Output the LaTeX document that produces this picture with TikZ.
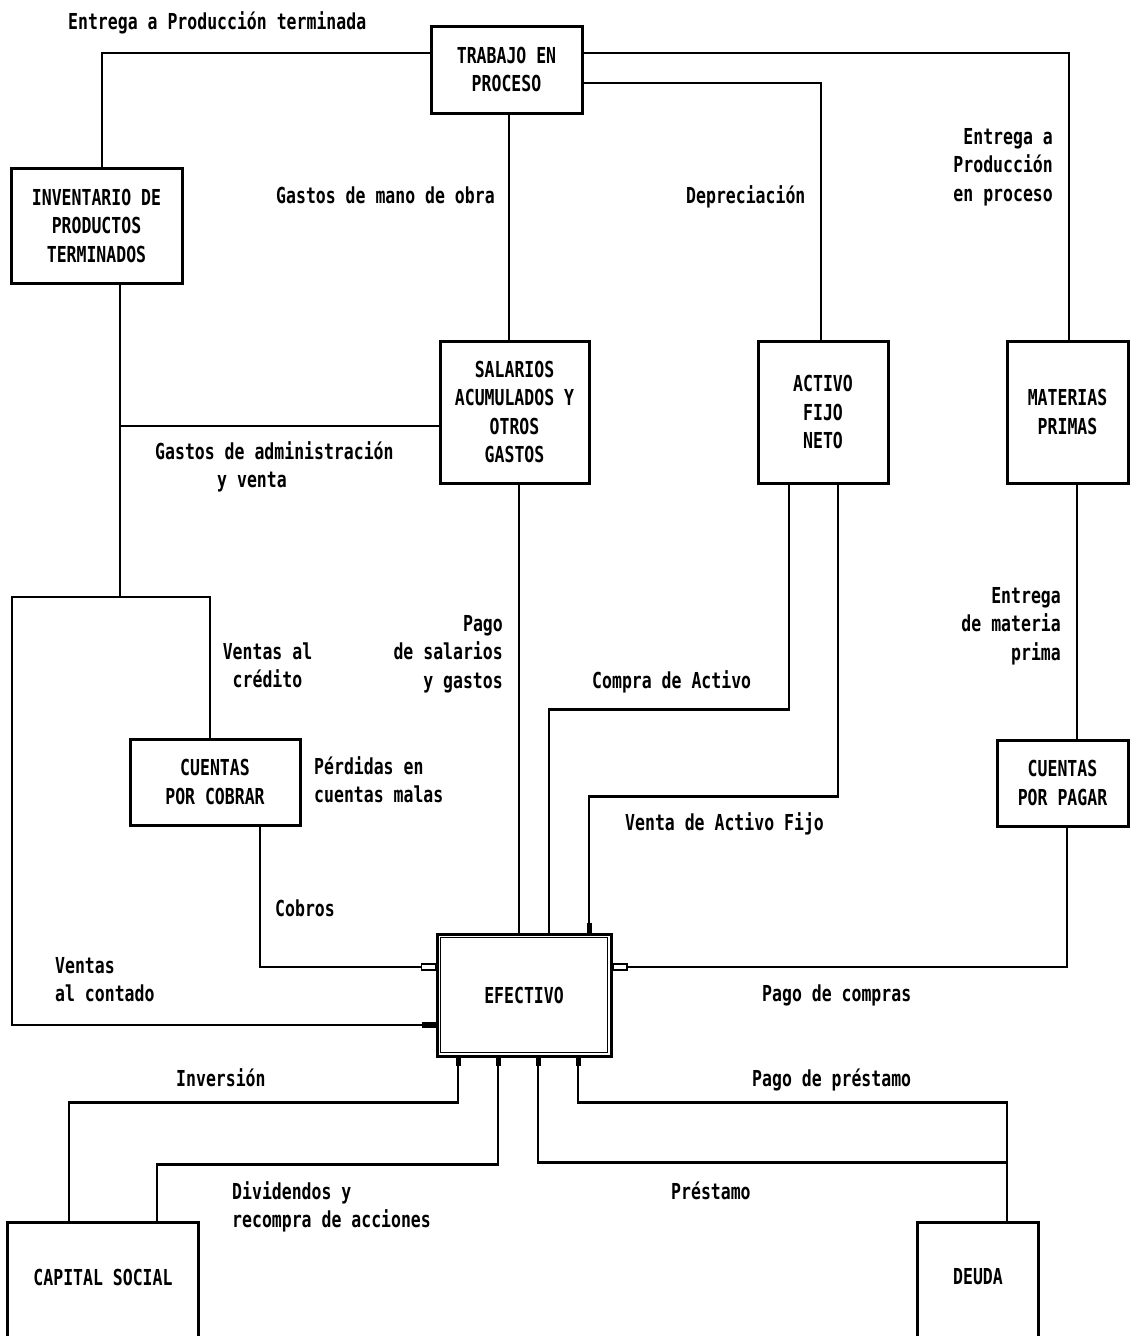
\documentclass[tikz,border=0pt]{standalone}
\usepackage{fontspec}
\setmainfont{DejaVu Sans Mono}[FakeStretch=0.75]
\usetikzlibrary{calc}
\newcommand\dfont{\bfseries\fontsize{22}{28.5}\selectfont}
\begin{document}
\begin{tikzpicture}[x=1pt,y=-1pt,
  box/.style={draw,line width=3pt,rectangle,inner sep=0pt,align=center,font=\dfont},
  openbox/.style={rectangle,inner sep=0pt,font=\dfont},
  ln/.style={line width=2.9pt},
  stub/.style={line width=5pt},
  lab/.style={inner sep=0pt,font=\dfont}]
\useasboundingbox (0,0) rectangle (1131,1336);

% boxes
\node[box,minimum width=151pt,minimum height=87pt] (trab) at (506.5,69.5) {TRABAJO EN\\PROCESO};
\node[box,minimum width=171pt,minimum height=115pt] (inv) at (96.5,225.5) {INVENTARIO DE\\PRODUCTOS\\TERMINADOS};
\node[box,minimum width=149pt,minimum height=142pt] (sal) at (514.5,412) {SALARIOS\\ACUMULADOS Y\\OTROS\\GASTOS};
\node[box,minimum width=130pt,minimum height=142pt] (act) at (823,412) {ACTIVO\\FIJO\\NETO};
\node[box,minimum width=121pt,minimum height=142pt] (mat) at (1067.5,412) {MATERIAS\\PRIMAS};
\node[box,minimum width=170pt,minimum height=86pt] (cxc) at (215,782) {CUENTAS\\POR COBRAR};
\node[box,minimum width=131pt,minimum height=86pt] (cxp) at (1062.5,783) {CUENTAS\\POR PAGAR};
\node[box,minimum width=174pt,minimum height=122pt,fill=white] (efe) at (524,995) {EFECTIVO};
\draw[line width=1.2pt] ($(efe.south west)+(5,-5)$) rectangle ($(efe.north east)+(-5,5)$);
\node[openbox,minimum width=190pt,minimum height=108pt] (cap) at (103,1277) {CAPITAL SOCIAL};
\draw[ln] ([yshift=-20pt]cap.south west) -- (cap.north west) -- (cap.north east) -- ([yshift=-20pt]cap.south east);
\node[openbox,minimum width=120pt,minimum height=108pt] (deu) at (978,1277) {DEUDA};
\draw[ln] ([yshift=-20pt]deu.south west) -- (deu.north west) -- (deu.north east) -- ([yshift=-20pt]deu.south east);

% nubs on EFECTIVO
\coordinate (n1) at ([shift={(-14pt,28pt)}]efe.west);
\coordinate (n2) at ([shift={(-14pt,-30pt)}]efe.west);
\coordinate (n3) at ([shift={(14pt,28pt)}]efe.east);
\draw[line width=1.4pt,fill=white] ([yshift=3pt]n1) rectangle ([yshift=-3pt]efe.west |- n1);
\draw[line width=6pt] (n2) -- (efe.west |- n2);
\draw[line width=2pt,fill=white] ([yshift=3pt]n3) rectangle ([yshift=-3pt]efe.east |- n3);

% connectors from TRABAJO EN PROCESO
\draw[ln] ([yshift=16.5pt]trab.west) -| ([xshift=5.5pt]inv.north);
\draw[ln] ([yshift=16.5pt]trab.east) -| ([xshift=1.5pt]mat.north);
\draw[ln] ([yshift=-13.5pt]trab.east) -| ([xshift=-2pt]act.north);
\draw[ln] ([xshift=2.5pt]trab.south) -- ([xshift=-5.5pt]sal.north);

% inventario / ventas
\coordinate (vent) at (120,597);
\coordinate (lc) at (12,597);
\draw[ln] ([xshift=23.5pt]inv.south) -- (vent);
\coordinate (gadm) at ($(sal.west)+(0,14)$);
\draw[ln] (gadm) -- (gadm -| vent);
\draw[ln] ([xshift=-5pt]cxc.north) |- (lc) -- (lc |- n2) -- (n2);
\draw[ln] ([xshift=45pt]cxc.south) |- (n1);

% salarios, activo
\coordinate (e1) at ([xshift=-5pt]efe.north);
\draw[ln] (e1) -- (e1 |- sal.south);
\draw[ln] ([xshift=-34pt]act.south) -- ++(0,225) -| ([xshift=25pt]efe.north);
\draw[ln] ([xshift=15pt]act.south) -- ++(0,312) -| ([xshift=65pt]efe.north);
\draw[stub] ([xshift=65pt]efe.north) -- ++(0,-10);

% materias primas / cuentas por pagar
\coordinate (m1) at ([xshift=9.5pt]mat.south);
\draw[ln] (m1) -- (m1 |- cxp.north);
\draw[ln] ([xshift=4.5pt]cxp.south) |- (n3);

% bottom
\draw[ln] ([xshift=-66pt]efe.south) -- ++(0,45) -| ([xshift=-34pt]cap.north);
\draw[ln] ([xshift=-26pt]efe.south) -- ++(0,107) -| ([xshift=54pt]cap.north);
\draw[ln] ([xshift=54pt]efe.south) -- ++(0,45) -| ([xshift=29pt]deu.north);
\draw[ln] ([xshift=14pt]efe.south) |- ([shift={(29pt,60pt)}]deu.north);
\foreach \s in {-66,-26,14,54} \draw[stub] ([xshift=\s pt]efe.south) -- ++(0,8);

% labels (base anchor = last line's baseline)
\node[lab,anchor=base west] (l1) at (68,29) {Entrega a Producción terminada};
\node[lab,anchor=base west] (l2) at (276,203) {Gastos de mano de obra};
\node[lab,anchor=base west] (l3) at (686,203) {Depreciación};
\node[lab,anchor=base east,align=right] (l4) at (1053,201) {Entrega a\\Producción\\en proceso};
\node[lab,anchor=base west,align=left] (l5) at (155,487.5) {Gastos de administración\\\hspace*{62pt}y venta};
\node[lab,anchor=base,align=center] (l6) at (267.5,687.5) {Ventas al\\crédito};
\node[lab,anchor=base east,align=right] (l7) at (503,688) {Pago\\de salarios\\y gastos};
\node[lab,anchor=base west] (l8) at (592,688) {Compra de Activo};
\node[lab,anchor=base west,align=left] (l9) at (314,802.5) {Pérdidas en\\cuentas malas};
\node[lab,anchor=base west] (l10) at (625,830) {Venta de Activo Fijo};
\node[lab,anchor=base east,align=right] (l11) at (1061,660) {Entrega\\de materia\\prima};
\node[lab,anchor=base west] (l12) at (275,916) {Cobros};
\node[lab,anchor=base west,align=left] (l13) at (55,1001.5) {Ventas\\al contado};
\node[lab,anchor=base west] (l14) at (762,1001) {Pago de compras};
\node[lab,anchor=base west] (l15) at (176,1086) {Inversión};
\node[lab,anchor=base west] (l16) at (752,1086) {Pago de préstamo};
\node[lab,anchor=base west,align=left] (l17) at (232,1227.5) {Dividendos y\\recompra de acciones};
\node[lab,anchor=base west] (l18) at (671,1199) {Préstamo};
\end{tikzpicture}
\end{document}
